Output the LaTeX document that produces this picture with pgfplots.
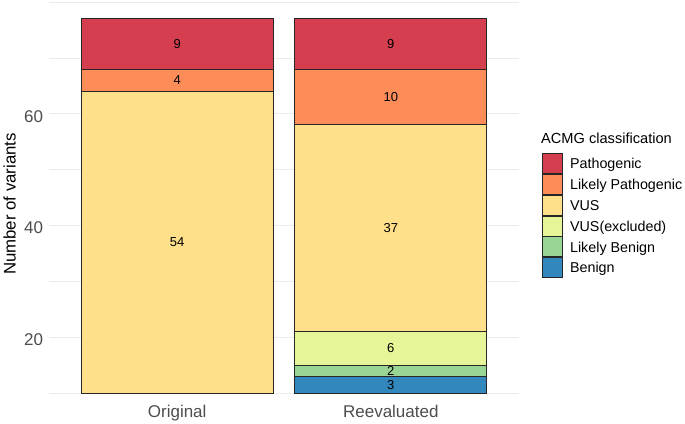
\documentclass[border=0pt]{standalone}
\usepackage{fontspec}
\setmainfont{Liberation Sans}
\usepackage{pgfplots}
\pgfplotsset{compat=1.18}
\definecolor{cP}{HTML}{D53E4F}
\definecolor{cLP}{HTML}{FC8D59}
\definecolor{cV}{HTML}{FEE08B}
\definecolor{cVE}{HTML}{E6F598}
\definecolor{cLB}{HTML}{99D594}
\definecolor{cB}{HTML}{3288BD}
\definecolor{gridc}{HTML}{EBEBEB}
\definecolor{tickc}{HTML}{4D4D4D}
\pgfplotsset{seg/.style={draw=black!85, line width=1pt,
  nodes near coords, point meta=explicit symbolic, nodes near coords align={center},
  every node near coord/.append style={font=\fontsize{13}{15}\selectfont, text=black, inner sep=0pt}}}
\begin{document}
\begin{tikzpicture}[x=1pt,y=1pt]
\path[use as bounding box] (0,0) rectangle (685,423);
\begin{axis}[
  at={(49pt,29.16pt)}, anchor=south west,
  scale only axis, width=470pt, height=393.5pt,
  xmin=-0.6, xmax=1.6, ymin=9.85, ymax=80.3,
  ybar stacked, bar width=0.9,
  xtick={0,1}, xticklabels={Original,Reevaluated},
  ytick={20,40,60}, yticklabels={20,40,60},
  minor ytick={10,30,50,70,80},
  ymajorgrids, yminorgrids,
  major grid style={draw=gridc, line width=1pt},
  minor grid style={draw=gridc, line width=0.6pt},
  axis line style={draw=none},
  major tick length=0pt, minor tick length=0pt, tick style={draw=none},
  /pgf/number format/assume math mode=true,
  xticklabel style={font=\fontsize{17}{20}\selectfont, text=tickc, anchor=north, inner sep=0pt, yshift=-11.2pt},
  yticklabel style={font=\fontsize{17}{20}\selectfont, text=tickc, anchor=east, inner sep=0pt, xshift=-5.7pt, yshift=-2.5pt},
  ylabel={Number of variants},
  ylabel style={at={(axis description cs:-0.0836,0.4824)}, anchor=center, inner sep=0pt, font=\fontsize{16.8}{20}\selectfont},
  reverse legend,
  legend cell align=left,
  legend style={at={(1.0483,0.6113)}, anchor=north west, draw=none, fill=none, inner sep=0pt, outer sep=0pt,
    font=\fontsize{14.3}{17}\selectfont, row sep=0.2pt, nodes={inner sep=0pt},
    /tikz/every odd column/.append style={column sep=7.8pt}},
  legend image code/.code={\draw[#1, draw=black!85, line width=0.6pt] (0pt,-9.2pt) rectangle (20pt,10.8pt);},
]
\addplot[draw=none, fill=none, forget plot] coordinates {(0,10) (1,10)};
\addplot[seg, fill=cB] table[meta=lab] {
x y lab
0 0 {}
1 3 3
};
\addlegendentry{Benign}
\addplot[seg, fill=cLB] table[meta=lab] {
x y lab
0 0 {}
1 2 2
};
\addlegendentry{Likely Benign}
\addplot[seg, fill=cVE] table[meta=lab] {
x y lab
0 0 {}
1 6 6
};
\addlegendentry{VUS(excluded)}
\addplot[seg, fill=cV] table[meta=lab] {
x y lab
0 54 54
1 37 37
};
\addlegendentry{VUS}
\addplot[seg, fill=cLP] table[meta=lab] {
x y lab
0 4 4
1 10 10
};
\addlegendentry{Likely Pathogenic}
\addplot[seg, fill=cP] table[meta=lab] {
x y lab
0 9 9
1 9 9
};
\addlegendentry{Pathogenic}
\end{axis}
\node[anchor=base west, inner sep=0pt, font=\fontsize{14.6}{17}\selectfont] at (541,279) {ACMG classification};
\end{tikzpicture}
\end{document}
